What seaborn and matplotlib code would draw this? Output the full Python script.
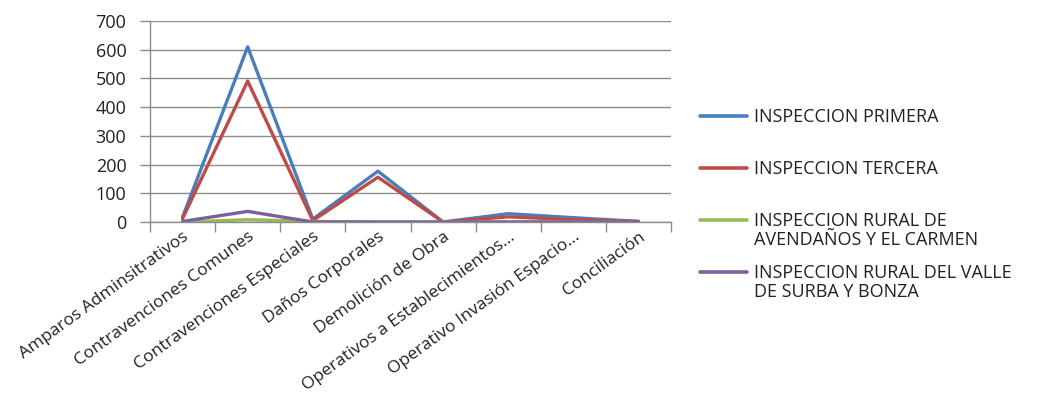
import matplotlib
matplotlib.use("Agg")
import matplotlib.pyplot as plt
import seaborn as sns
import pandas as pd
import numpy as np

categories = ["Amparos Adminsitrativos", "Contravenciones Comunes", "Contravenciones Especiales",
              "Daños Corporales", "Demolición de Obra", "Operativos a Establecimientos...",
              "Operativo Invasión Espacio...", "Conciliación"]
primera = [17, 610, 10, 177, 0, 29, 15, 2]
tercera = [12, 491, 5, 156, 0, 18, 8, 2]
avendanos = [0, 8, 2, 0, 0, 0, 0, 0]
surba = [2, 37, 0, 0, 0, 0, 0, 1]
series_names = ["INSPECCION PRIMERA", "INSPECCION TERCERA",
                "INSPECCION RURAL DE\nAVENDAÑOS Y EL CARMEN",
                "INSPECCION RURAL DEL VALLE\nDE SURBA Y BONZA"]
colors = ["#4A7EBB", "#BE4B48", "#98B954", "#7D5FA0"]
yticks = [0, 100, 200, 300, 400, 500, 600, 700]

rows = []
for name, vals in zip(series_names, [primera, tercera, avendanos, surba]):
    for c, v in zip(categories, vals):
        rows.append({"cat": c, "val": v, "serie": name})
df = pd.DataFrame(rows)

sns.set_style("white")
plt.rcParams["font.family"] = ["Open Sans", "DejaVu Sans"]

fig = plt.figure(figsize=(10.44, 3.95), dpi=100)
ax = fig.add_axes([150/1044, 1-222/395, (671-150)/1044, (222-21)/395])

sns.lineplot(data=df, x="cat", y="val", hue="serie", palette=colors,
             linewidth=2.4, sort=False, ax=ax, legend=True)
handles, labels = ax.get_legend_handles_labels()
ax.get_legend().remove()

ax.set_xlim(-0.5, len(categories) - 0.5)
ax.set_ylim(0, 700)
ax.set_yticks(yticks)
ax.set_yticklabels([str(t) for t in yticks])
ax.yaxis.grid(True, color="#8C8C8C", linewidth=1)
ax.set_axisbelow(True)
ax.set_xlabel("")
ax.set_ylabel("")
for s in ["top", "right"]:
    ax.spines[s].set_visible(False)
for s in ["left", "bottom"]:
    ax.spines[s].set_color("#8C8C8C")
    ax.spines[s].set_linewidth(1)

ax.tick_params(axis="y", length=7, width=1, color="#8C8C8C", pad=10, labelsize=13, labelcolor="#222222", left=True)
ax.set_xticks(range(len(categories)))
ax.set_xticklabels(categories, rotation=36, ha="right", rotation_mode="anchor", fontsize=12.5, color="#222222")
ax.tick_params(axis="x", length=0, pad=5)
ax.set_xticks(np.arange(-0.5, len(categories)), minor=True)
ax.tick_params(axis="x", which="minor", length=7, width=1, color="#8C8C8C", bottom=True)

LFS = 13
first_lines = [l.split("\n")[0] for l in labels]
leg = fig.legend(handles, first_lines, loc="upper left", bbox_to_anchor=(700/1044, 1-108/395),
                 frameon=False, fontsize=LFS, handlelength=2.6, handletextpad=0.4,
                 labelspacing=1.88, borderaxespad=0, borderpad=0)
for h in leg.get_lines():
    h.set_linewidth(2.6)
for t in leg.get_texts():
    t.set_color("#222222")

fig.canvas.draw()
inv = fig.transFigure.inverted()
for t, full in zip(leg.get_texts(), labels):
    parts = full.split("\n")
    if len(parts) > 1:
        bb = t.get_window_extent()
        x0, y0 = inv.transform((bb.x0, bb.y0 - 1))
        fig.text(x0, y0, parts[1], fontsize=LFS, color="#222222", ha="left", va="top")

fig.savefig("out.png", dpi=100)
